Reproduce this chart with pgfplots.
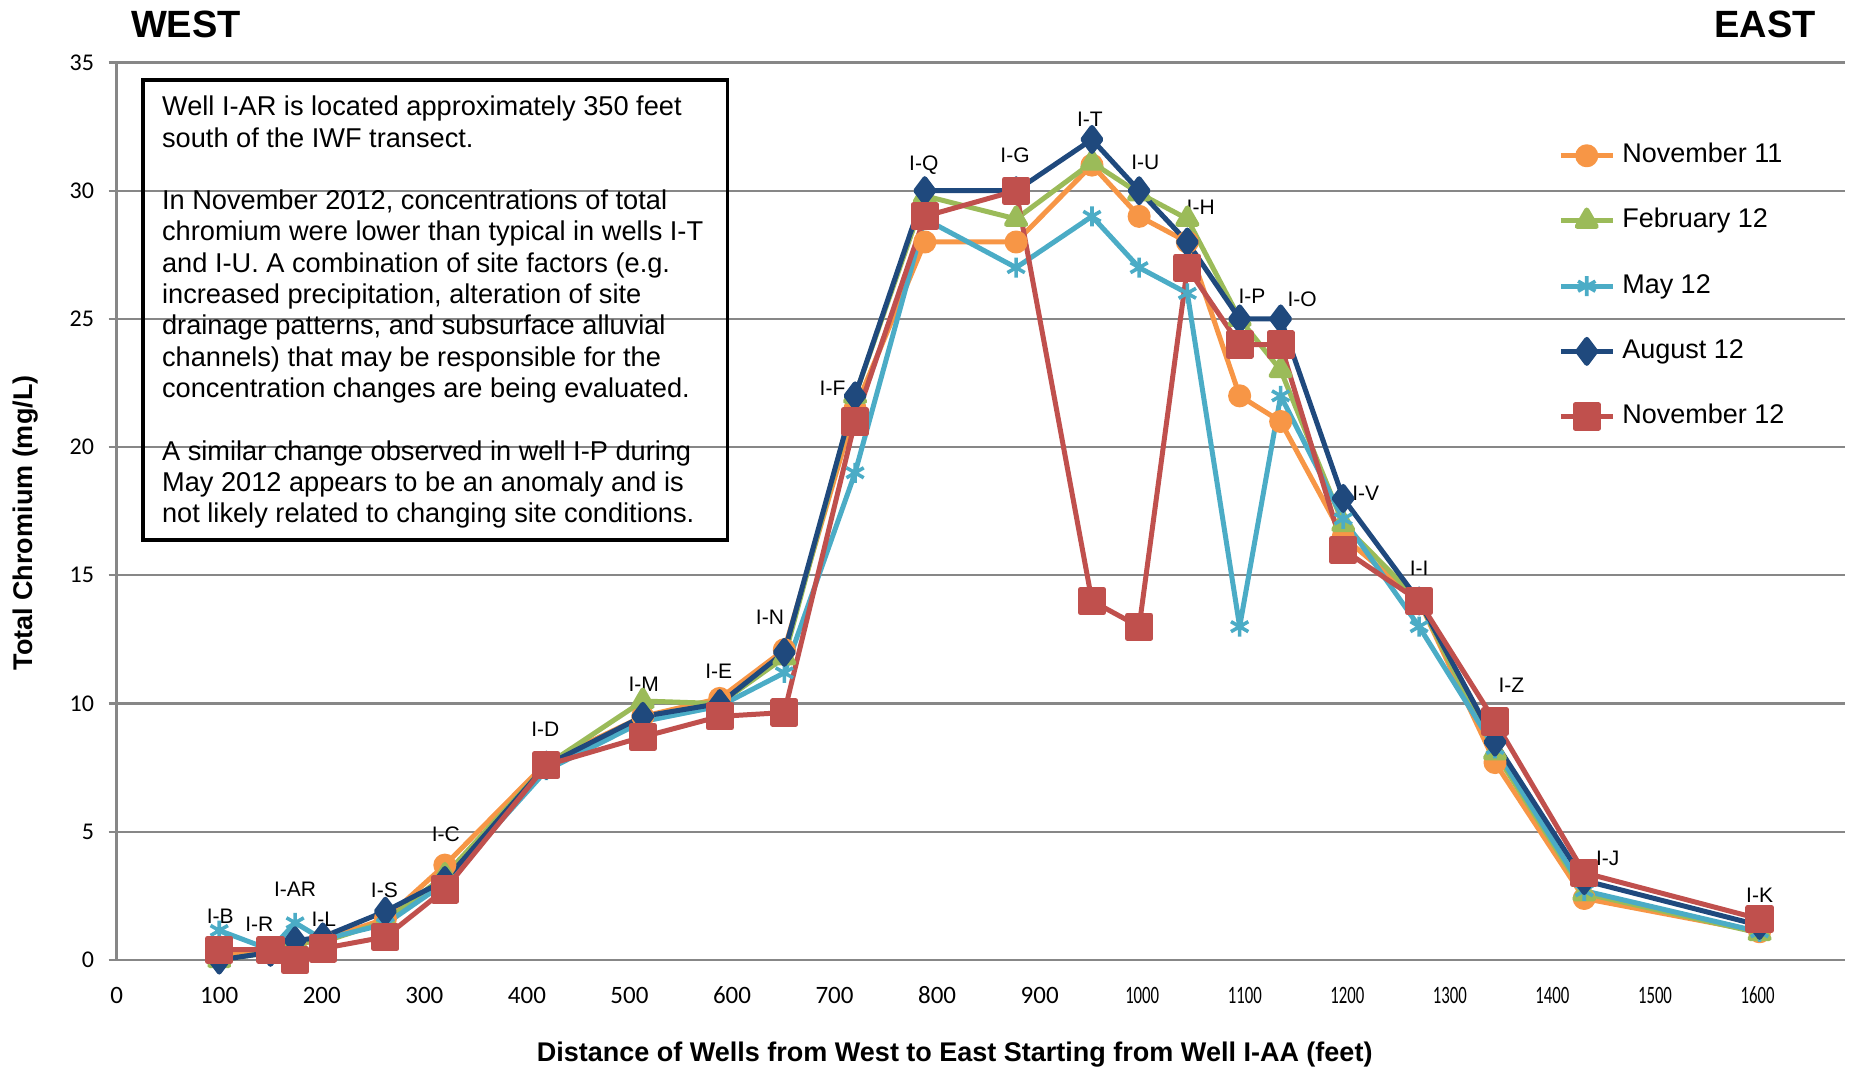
\documentclass[border=0pt]{standalone}
\usepackage{pgfplots}
\usepackage{pgfplotstable}
\usepackage{graphicx}
\pgfplotsset{compat=1.18}
\usepackage{fontspec}
\setmainfont{Liberation Sans}
\newfontfamily\tickfont{Carlito}
\definecolor{cOr}{HTML}{F79646}
\definecolor{cGr}{HTML}{9BBB59}
\definecolor{cCy}{HTML}{4BACC6}
\definecolor{cNv}{HTML}{1F497D}
\definecolor{cRd}{HTML}{C0504D}
\definecolor{cGrid}{HTML}{878787}
\newcommand\tl[1]{\mbox{\tickfont #1}}
\newcommand\sq[1]{\mbox{\tickfont\scalebox{0.67}[1]{#1}}}
\pgfplotstableread{
x nov11 feb12 may12 aug12 nov12
100 0.2 0.0 1.15 0.0 0.4
150 0.4 0.3 0.4 0.3 0.4
174 0.6 0.7 1.45 0.75 0.0
201 0.8 0.7 0.8 0.9 0.45
262 1.6 1.5 1.4 1.9 0.9
320 3.7 3.3 3.0 3.1 2.75
419 7.7 7.6 7.4 7.6 7.6
513 9.5 10.1 9.3 9.5 8.7
588 10.2 10.0 9.9 10.0 9.5
651 12.1 11.8 11.2 12.0 9.65
720 21.5 22 19 22 21
788 28 29.8 28.9 30 29
877 28 28.9 27 30 30
951 31 31.1 29 32 14
997 29 29.9 27 30 13
1044 28 28.9 26 28 27
1095 22 25 13 25 24
1135 21 23 22 25 24
1196 16.5 17 17.2 18 16
1270 14 14 13 14 14
1344 7.7 8.1 8.25 8.5 9.3
1431 2.4 2.6 2.7 3.1 3.4
1602 1.1 1.05 1.1 1.35 1.6
}\data
\begin{document}
\begin{tikzpicture}
\path[use as bounding box] (-58.35bp,-56bp) rectangle (866.15bp,480bp);
\begin{axis}[
  scale only axis, width=864bp, height=448.75bp,
  xmin=0, xmax=1685, ymin=0, ymax=35,
  axis lines*=left,
  axis line style={cGrid, line width=1.2bp},
  clip=false,
  /pgf/number format/assume math mode=true,
  ytick={0,5,...,35},
  xtick={0,100,...,1600},
  xticklabels={\tl{0},\tl{100},\tl{200},\tl{300},\tl{400},\tl{500},\tl{600},\tl{700},\tl{800},\tl{900},\sq{1000},\sq{1100},\sq{1200},\sq{1300},\sq{1400},\sq{1500},\sq{1600}},
  ymajorgrids,
  major grid style={cGrid, line width=1.1bp},
  tick align=outside,
  major tick length=4bp,
  ytick style={cGrid, line width=1.1bp},
  xtick style={draw=none},
  xticklabel style={font=\tickfont\fontsize{12.5bp}{14bp}\selectfont, yshift=-5.9bp},
  yticklabel style={font=\tickfont\fontsize{12bp}{14bp}\selectfont, xshift=-3.8bp},
  legend style={draw=none, fill=none, at={(0.834,0.911)}, anchor=north west, inner sep=0pt,
    font=\fontsize{13.5bp}{16bp}\selectfont, row sep=19.6bp,
    nodes={inner xsep=3.5bp, inner ysep=0pt, text height=10bp, text depth=3bp}},
  legend cell align=left,
  legend image code/.code={\draw[mark repeat=2,mark phase=2,#1] plot coordinates {(0bp,0bp)(13bp,0bp)(26bp,0bp)};},
  every axis plot/.append style={line width=2.5bp, line join=round},
]
\addplot[color=cOr, mark=*, mark size=4.5bp, mark options={solid}] table[x=x,y=nov11] {\data};
\addlegendentry{November 11}
\addplot[color=cGr, mark=triangle*, mark size=5.5bp, mark options={solid}] table[x=x,y=feb12] {\data};
\addlegendentry{February 12}
\addplot[color=cCy, mark=asterisk, mark size=5bp, mark options={solid, line width=1.8bp}] table[x=x,y=may12] {\data};
\addlegendentry{May 12}
\addplot[color=cNv, mark=diamond*, mark size=6bp, mark options={solid}] table[x=x,y=aug12] {\data};
\addlegendentry{August 12}
\addplot[color=cRd, mark=square*, mark size=5.8bp, mark options={solid}] table[x=x,y=nov12] {\data};
\addlegendentry{November 12}
\begin{scope}[every node/.style={font=\fontsize{10.5bp}{12bp}\selectfont}]
\node at (axis cs:101,1.72) {I-B};
\node at (axis cs:139,1.39) {I-R};
\node at (axis cs:174,2.76) {I-AR};
\node at (axis cs:202,1.57) {I-L};
\node at (axis cs:261,2.73) {I-S};
\node at (axis cs:321,4.89) {I-C};
\node at (axis cs:418,9.0) {I-D};
\node at (axis cs:514,10.77) {I-M};
\node at (axis cs:587,11.27) {I-E};
\node at (axis cs:637,13.35) {I-N};
\node at (axis cs:698,22.3) {I-F};
\node at (axis cs:787,31.0) {I-Q};
\node at (axis cs:876,31.37) {I-G};
\node at (axis cs:949,32.8) {I-T};
\node at (axis cs:1003,31.1) {I-U};
\node at (axis cs:1057,29.35) {I-H};
\node at (axis cs:1107,25.9) {I-P};
\node at (axis cs:1156,25.76) {I-O};
\node at (axis cs:1218,18.2) {I-V};
\node at (axis cs:1270,15.27) {I-I};
\node at (axis cs:1360,10.72) {I-Z};
\node at (axis cs:1454,3.97) {I-J};
\node at (axis cs:1602,2.54) {I-K};
\end{scope}
\end{axis}
\draw[line width=1.6bp] (13.15bp,210bp) rectangle (305.3bp,440bp);
\node[anchor=north west, inner sep=0pt, align=left, font=\fontsize{13.6bp}{15.65bp}\selectfont] at (22.5bp,432.2bp)
{Well I-AR is located approximately 350 feet\\
south of the IWF transect.\\[15.65bp]
In November 2012, concentrations of total\\
chromium were lower than typical in wells I-T\\
and I-U. A combination of site factors (e.g.\\
increased precipitation, alteration of site\\
drainage patterns, and subsurface alluvial\\
channels) that may be responsible for the\\
concentration changes are being evaluated.\\[15.65bp]
A similar change observed in well I-P during\\
May 2012 appears to be an anomaly and is\\
not likely related to changing site conditions.};
\node[font=\bfseries\fontsize{19bp}{22bp}\selectfont] at (34.65bp,468bp) {WEST};
\node[font=\bfseries\fontsize{19bp}{22bp}\selectfont] at (824.15bp,468bp) {EAST};
\node[rotate=90, font=\bfseries\fontsize{13.5bp}{16bp}\selectfont] at (-45.35bp,218.5bp) {Total Chromium (mg/L)};
\node[font=\bfseries\fontsize{13.5bp}{16bp}\selectfont] at (419bp,-47.5bp) {Distance of Wells from West to East Starting from Well I-AA (feet)};
\end{tikzpicture}
\end{document}
